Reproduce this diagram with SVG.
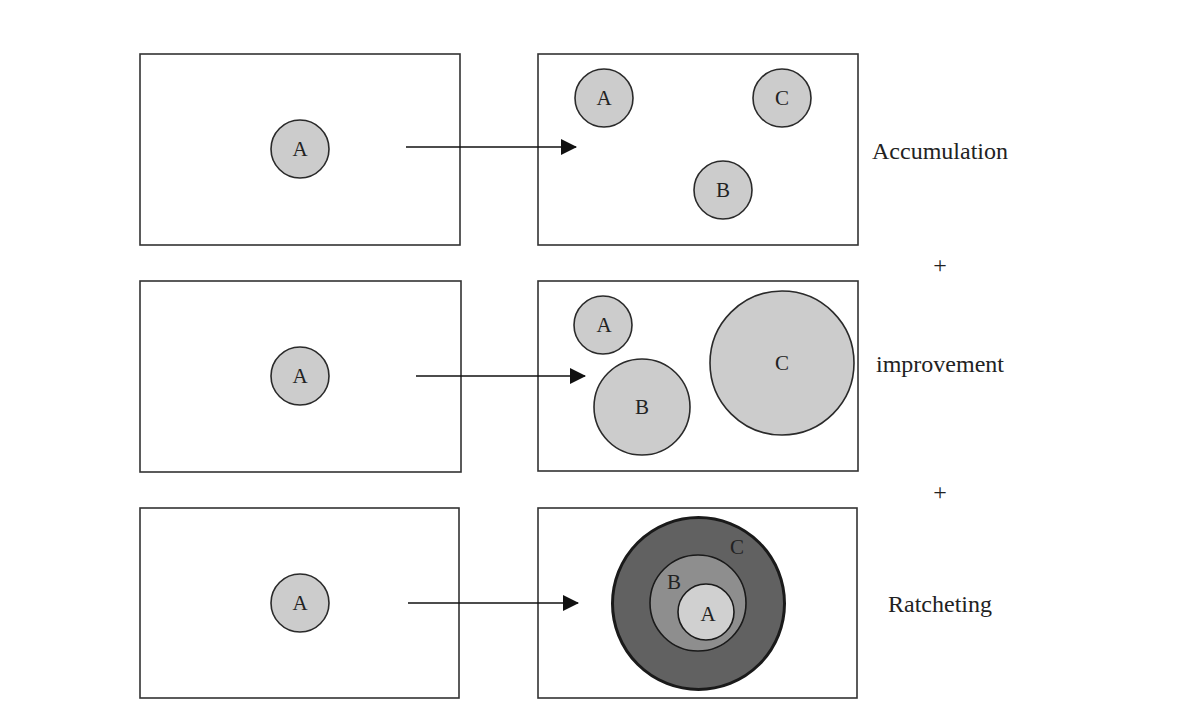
<svg xmlns="http://www.w3.org/2000/svg" width="1200" height="719" viewBox="0 0 1200 719">
<style>
.box{fill:#fff;stroke:#333;stroke-width:1.6}
.c{fill:#cccccc;stroke:#2a2a2a;stroke-width:1.6}
.t{font-family:"Liberation Serif",serif;font-size:21px;fill:#222;text-anchor:middle}
.lbl{font-family:"Liberation Serif",serif;font-size:24px;fill:#222;text-anchor:middle}
.ar{stroke:#111;stroke-width:1.6;fill:none;marker-end:url(#ah)}
</style>
<defs>
<marker id="ah" markerWidth="16" markerHeight="16" refX="15" refY="8" orient="auto" markerUnits="userSpaceOnUse" viewBox="0 0 16 16">
<path d="M0,0 L16,8 L0,16 Z" fill="#111"/>
</marker>
</defs>
<rect width="1200" height="719" fill="#fff"/>
<g id="row1-left">
<rect class="box" x="140" y="54" width="320" height="191"/>
<circle class="c" cx="300" cy="149" r="29"/>
<text class="t" x="300" y="156">A</text>
</g>
<g id="row1-right">
<rect class="box" x="538" y="54" width="320" height="191"/>
<circle class="c" cx="604" cy="98" r="29"/>
<text class="t" x="604" y="105">A</text>
<circle class="c" cx="782" cy="98" r="29"/>
<text class="t" x="782" y="105">C</text>
<circle class="c" cx="723" cy="190" r="29"/>
<text class="t" x="723" y="197">B</text>
</g>
<g id="row2-left">
<rect class="box" x="140" y="281" width="321" height="191"/>
<circle class="c" cx="300" cy="376" r="29"/>
<text class="t" x="300" y="383">A</text>
</g>
<g id="row2-right">
<rect class="box" x="538" y="281" width="320" height="190"/>
<circle class="c" cx="603" cy="325" r="29"/>
<text class="t" x="604" y="332">A</text>
<circle class="c" cx="642" cy="407" r="48"/>
<text class="t" x="642" y="414">B</text>
<circle class="c" cx="782" cy="363" r="72"/>
<text class="t" x="782" y="370">C</text>
</g>
<g id="row3-left">
<rect class="box" x="140" y="508" width="319" height="190"/>
<circle class="c" cx="300" cy="603" r="29"/>
<text class="t" x="300" y="610">A</text>
</g>
<g id="row3-right">
<rect class="box" x="538" y="508" width="319" height="190"/>
<circle cx="698.5" cy="603.5" r="86" fill="#616161" stroke="#1a1a1a" stroke-width="3"/>
<circle cx="698" cy="603" r="48" fill="#8e8e8e" stroke="#1a1a1a" stroke-width="1.6"/>
<circle cx="706" cy="612" r="28" fill="#d0d0d0" stroke="#1a1a1a" stroke-width="1.6"/>
<text class="t" x="737" y="554">C</text>
<text class="t" x="674" y="589">B</text>
<text class="t" x="708" y="621">A</text>
</g>
<g id="connectors">
<line class="ar" x1="406" y1="147" x2="576" y2="147"/>
<line class="ar" x1="416" y1="376" x2="585" y2="376"/>
<line class="ar" x1="408" y1="603" x2="578" y2="603"/>
</g>
<g id="labels">
<text class="lbl" x="940" y="159">Accumulation</text>
<text class="lbl" x="940" y="273">+</text>
<text class="lbl" x="940" y="372">improvement</text>
<text class="lbl" x="940" y="500">+</text>
<text class="lbl" x="940" y="612">Ratcheting</text>
</g>
</svg>
